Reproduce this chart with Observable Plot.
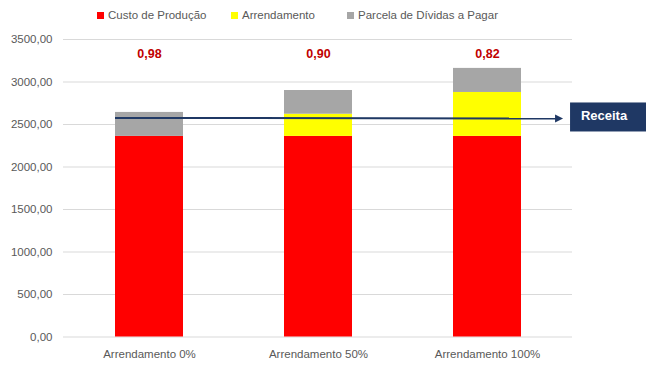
<!DOCTYPE html>
<html>
<head>
<meta charset="utf-8">
<script src="https://cdn.jsdelivr.net/npm/d3@7"></script>
<script src="https://cdn.jsdelivr.net/npm/@observablehq/plot@0.6"></script>
<style>
  html, body { margin: 0; padding: 0; background: #fff; }
  #wrap { position: relative; width: 646px; height: 368px; font-family: "Liberation Sans", Arial, sans-serif; }
  #legend { position: relative; height: 26px; }
  .item { position: absolute; top: 8px; display: flex; align-items: center; font-size: 11.5px; color: #595959; line-height: 14px; white-space: nowrap; }
  .sw { width: 7px; height: 7px; margin-right: 4px; display: inline-block; }
</style>
</head>
<body>
<div id="wrap">
  <div id="legend"></div>
  <div id="chart"></div>
</div>
<script>
const categories = ["Arrendamento 0%", "Arrendamento 50%", "Arrendamento 100%"];
const series = ["Custo de Produção", "Arrendamento", "Parcela de Dívidas a Pagar"];
const colors = ["#ff0000", "#ffff00", "#a6a6a6"];
const custoProducao = [2360, 2360, 2360];
const arrendamento = [0, 261, 517];
const parcelaDividas = [282, 279, 283];
const razaoLabels = ["0,98", "0,90", "0,82"];
const receitaStart = 2572;
const receitaEnd = 2565;
const receitaLabel = "Receita";
const yTicks = [0, 500, 1000, 1500, 2000, 2500, 3000, 3500];

// legend
const legendPos = [97, 231, 347];
const legend = document.getElementById("legend");
series.forEach((s, i) => {
  const it = document.createElement("div");
  it.className = "item";
  it.style.left = legendPos[i] + "px";
  it.innerHTML = `<span class="sw" style="background:${colors[i]}"></span><span>${s}</span>`;
  legend.appendChild(it);
});

const values = [custoProducao, arrendamento, parcelaDividas];
const table = [];
categories.forEach((c, ci) => {
  series.forEach((s, si) => table.push({cat: c, serie: s, value: values[si][ci]}));
});
const labels = categories.map((c, i) => ({cat: c, label: razaoLabels[i]}));

const fmt = d => d.toFixed(2).replace(".", ",");

const receitaMark = (index, scales, vals, dims) => {
  const x = scales.x, y = scales.y;
  const bw = x.bandwidth ? x.bandwidth() : 0;
  const step = x.step ? x.step() : bw;
  const x1 = x(categories[0]);
  const x2 = x(categories[categories.length - 1]) + bw / 2 + step * 0.45;
  const y1 = y(receitaStart), y2 = y(receitaEnd);
  const g = d3.create("svg:g");
  g.append("line").attr("x1", x1).attr("y1", y1).attr("x2", x2 - 6).attr("y2", y2)
    .attr("stroke", "#1f3864").attr("stroke-width", 2);
  g.append("path").attr("d", `M${x2},${y2}L${x2 - 8},${y2 - 4}L${x2 - 8},${y2 + 4}Z`).attr("fill", "#1f3864");
  const bx = x2 + 7;
  g.append("rect").attr("x", bx).attr("y", y2 - 16).attr("width", dims.width - bx).attr("height", 29)
    .attr("fill", "#1f3864");
  g.append("text").attr("x", bx + 34).attr("y", y2 - 1.5).attr("text-anchor", "middle")
    .attr("dominant-baseline", "middle").attr("fill", "#fff").attr("font-weight", "bold")
    .attr("font-size", 13).attr("font-family", "Liberation Sans, Arial, sans-serif").text(receitaLabel);
  return g.node();
};

const chart = Plot.plot({
  width: 646,
  height: 342,
  marginTop: 13,
  marginLeft: 63,
  marginRight: 74,
  marginBottom: 31.5,
  style: {fontFamily: "Liberation Sans, Arial, sans-serif", fontSize: "11.5px", color: "#595959", background: "#fff"},
  x: {domain: categories, paddingInner: 0.6, paddingOuter: 0.3, label: null, tickSize: 0, tickPadding: 13},
  y: {domain: [0, 3500], ticks: yTicks, tickFormat: fmt, label: null, tickSize: 0, tickPadding: 11},
  color: {domain: series, range: colors},
  marks: [
    Plot.ruleY(yTicks, {stroke: "#d9d9d9", strokeWidth: 1}),
    Plot.barY(table, Plot.stackY({x: "cat", y: "value", fill: "serie", order: series})),
    Plot.text(labels, {x: "cat", text: "label", frameAnchor: "top", dy: 14, fill: "#c00000", fontWeight: "bold", fontSize: 12.5, lineAnchor: "middle"}),
    receitaMark
  ]
});
document.getElementById("chart").appendChild(chart);
</script>
</body>
</html>
